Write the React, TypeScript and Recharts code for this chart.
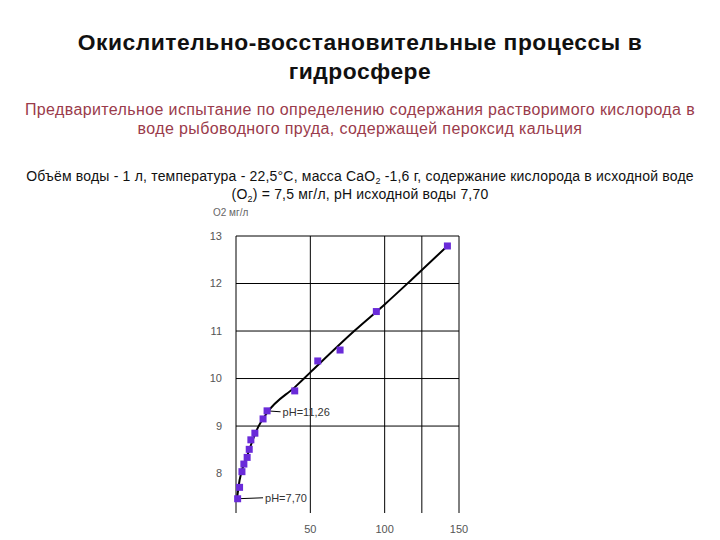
import React from "react";
import {
  ComposedChart,
  Line,
  Scatter,
  XAxis,
  YAxis,
  CartesianGrid,
  ReferenceLine,
  ReferenceDot,
} from "recharts";

// measured points (CaO2 test), y = O2 mg/l
const pointX = [1.1, 2.4, 4.0, 5.3, 7.5, 8.9, 10.0, 12.7, 18.2, 20.9, 39.5, 55.0, 70.0, 94.4, 142.2];
const pointY = [7.47, 7.71, 8.04, 8.2, 8.34, 8.51, 8.71, 8.85, 9.15, 9.32, 9.74, 10.37, 10.6, 11.41, 12.79];

// hand drawn trend line
const curveX = [0.7, 2.4, 7.3, 14.0, 20.7, 40.0, 50.0, 79.5, 100.0, 118.4, 142.2];
const curveY = [7.48, 7.86, 8.35, 8.92, 9.27, 9.83, 10.13, 11.0, 11.56, 12.09, 12.79];

const xTicks = [50, 100, 150];
const yTicks = [8, 9, 10, 11, 12, 13];
const gridX = [50, 100, 125, 150];
const gridY = [9, 10, 11, 12, 13];

const notes = [
  { label: "pH=7,70", from: [1.1, 7.47], to: [18.2, 7.49] },
  { label: "pH=11,26", from: [20.9, 9.32], to: [30.0, 9.3] },
];

const points = pointX.map((x, i) => ({ x, y: pointY[i] }));
const curve = curveX.map((x, i) => ({ x, y: curveY[i] }));

const FONT = "'Liberation Sans', Arial, sans-serif";
const TICK = { fill: "#555", fontSize: 11, fontFamily: FONT };
const SUB = { fontSize: 9, verticalAlign: "baseline", position: "relative" as const, top: 3, lineHeight: 0 };

const Square = (props: any) => {
  const { cx, cy } = props;
  if (cx == null || cy == null) return null;
  return <rect x={cx - 3.5} y={cy - 3.5} width={7} height={7} fill="#6a2bd9" />;
};

export default function App() {
  return (
    <div style={{ position: "absolute", left: 0, top: 0, width: 720, height: 540, background: "#fff", fontFamily: FONT }}>
      <div style={{ position: "absolute", left: 0, top: 28, width: 720, textAlign: "center", fontSize: 22.8, fontWeight: 700, lineHeight: "29px", color: "#111", letterSpacing: 0.55 }}>
        Окислительно-восстановительные процессы в
        <br />
        гидросфере
      </div>
      <div style={{ position: "absolute", left: 0, top: 100, width: 720, textAlign: "center", fontSize: 16, lineHeight: "19px", color: "#9a3b4b", letterSpacing: 0.38 }}>
        Предварительное испытание по определению содержания растворимого кислорода в
        <br />
        воде рыбоводного пруда, содержащей пероксид кальция
      </div>
      <div style={{ position: "absolute", left: 0, top: 167, width: 720, textAlign: "center", fontSize: 14, lineHeight: "18px", color: "#111", letterSpacing: 0.19 }}>
        Объём воды - 1 л, температура - 22,5°С, масса CaO<sub style={SUB}>2</sub> -1,6 г, содержание кислорода в исходной воде
        <br />
        (O<sub style={SUB}>2</sub>) = 7,5 мг/л, pH исходной воды 7,70
      </div>
      <div style={{ position: "absolute", left: 213, top: 207, fontSize: 10, lineHeight: "11px", color: "#666" }}>
        O2 мг/л
      </div>
      <div style={{ position: "absolute", left: 180, top: 200 }}>
        <ComposedChart width={300} height={340} data={curve} margin={{ top: 36, right: 21, bottom: 7, left: 26 }}>
          <CartesianGrid stroke="#000" strokeWidth={1} horizontalValues={gridY} verticalValues={gridX} />
          <XAxis
            type="number"
            dataKey="x"
            domain={[0, 150]}
            ticks={xTicks}
            axisLine={false}
            tickLine={false}
            tick={TICK}
            height={20}
            tickMargin={6}
          />
          <YAxis
            type="number"
            dataKey="y"
            domain={[7.17, 13]}
            allowDataOverflow
            ticks={yTicks}
            axisLine={{ stroke: "#000" }}
            tickLine={false}
            tick={TICK}
            width={30}
            tickMargin={8}
          />
          <Line type="monotone" dataKey="y" stroke="#000" strokeWidth={2} dot={false} isAnimationActive={false} />
          <Scatter data={points} dataKey="y" shape={<Square />} isAnimationActive={false} />
          {notes.map((n) => (
            <ReferenceLine
              key={n.label}
              segment={[
                { x: n.from[0], y: n.from[1] },
                { x: n.to[0], y: n.to[1] },
              ]}
              stroke="#000"
              strokeWidth={1}
            />
          ))}
          {notes.map((n) => (
            <ReferenceDot
              key={n.label + "-t"}
              x={n.to[0]}
              y={n.to[1]}
              r={0}
              stroke="none"
              label={{ value: n.label, position: "right", offset: 2, fill: "#333", fontSize: 11, fontFamily: FONT }}
            />
          ))}
        </ComposedChart>
      </div>
    </div>
  );
}
